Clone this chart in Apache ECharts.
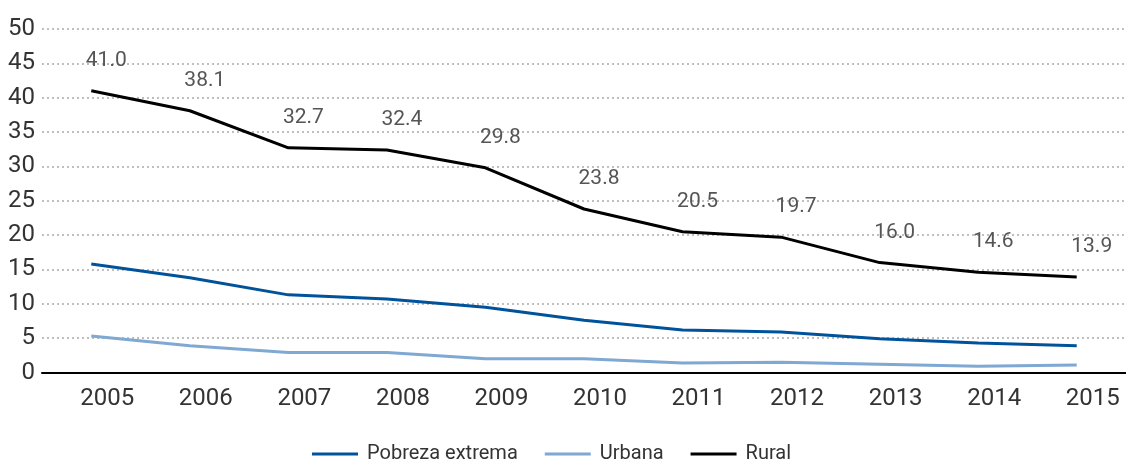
<!DOCTYPE html>
<html>
<head>
<meta charset="utf-8">
<script src="https://cdn.jsdelivr.net/npm/echarts@6/dist/echarts.min.js"></script>
<style>html,body{margin:0;padding:0;background:#fff}#c{width:1126px;height:461px}</style>
</head>
<body>
<div id="c"></div>
<script>
const years = ['2005','2006','2007','2008','2009','2010','2011','2012','2013','2014','2015'];
const pobrezaExtrema = [15.8, 13.8, 11.3, 10.7, 9.5, 7.6, 6.2, 5.9, 4.9, 4.3, 3.9];
const urbana = [5.3, 3.9, 2.9, 2.9, 2.0, 2.0, 1.4, 1.5, 1.2, 0.9, 1.1];
const rural = [41.0, 38.1, 32.7, 32.4, 29.8, 23.8, 20.5, 19.7, 16.0, 14.6, 13.9];

const font = 'Roboto';
const chart = echarts.init(document.getElementById('c'));
chart.setOption({
  animation: false,
  textStyle: { fontFamily: font },
  grid: { left: 42, right: -7, top: 29, bottom: 88.5 },
  legend: {
    top: 439,
    left: 307,
    icon: 'rect',
    itemWidth: 46,
    itemHeight: 3,
    itemGap: 27,
    textStyle: { fontFamily: font, fontSize: 20, color: '#333', padding: [0, 0, 0, 4] },
    data: [
      { name: 'Pobreza extrema' },
      { name: 'Urbana' },
      { name: 'Rural', itemStyle: { color: '#000', opacity: 1 } }
    ]
  },
  xAxis: {
    type: 'category',
    data: years,
    boundaryGap: true,
    axisLine: { show: true, lineStyle: { color: '#000', width: 2 } },
    axisTick: { show: false },
    axisLabel: { fontFamily: font, fontSize: 24, color: '#333', margin: 14, padding: [0, 0, 0, 32] },
    splitLine: { show: false }
  },
  yAxis: {
    type: 'value',
    min: 0, max: 50, interval: 5,
    axisLine: { show: false },
    axisTick: { show: false },
    axisLabel: { fontFamily: font, fontSize: 24, color: '#333', margin: 7 },
    splitLine: { show: true, lineStyle: { color: '#aaa', type: [2, 3], width: 1.5 } }
  },
  series: [
    {
      name: 'Pobreza extrema', type: 'line', data: pobrezaExtrema,
      symbol: 'none', lineStyle: { color: '#00529b', width: 3 }, itemStyle: { color: '#00529b' }
    },
    {
      name: 'Urbana', type: 'line', data: urbana,
      symbol: 'none', lineStyle: { color: '#7fa8d3', width: 3 }, itemStyle: { color: '#7fa8d3' }
    },
    {
      name: 'Rural', type: 'line', data: rural,
      symbol: 'circle', symbolSize: 1, showSymbol: true,
      lineStyle: { color: '#000', width: 3 }, itemStyle: { color: '#000', opacity: 0 },
      label: {
        show: true, position: 'top', distance: 19, offset: [15, 0],
        formatter: p => p.value.toFixed(1),
        fontFamily: font, fontSize: 21, color: '#555', opacity: 1
      }
    }
  ]
});
</script>
</body>
</html>
